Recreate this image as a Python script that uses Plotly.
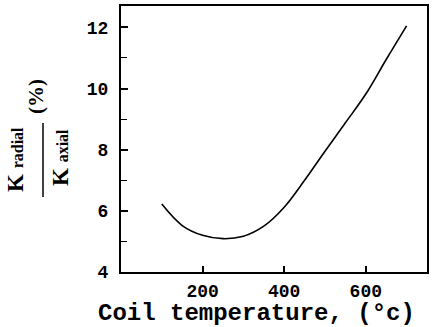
import plotly.graph_objects as go

temperature = [100, 150, 200, 250, 300, 350, 400, 450, 500, 550, 600, 650, 700]
k_ratio = [6.22, 5.52, 5.2, 5.09, 5.17, 5.5, 6.12, 7.0, 7.95, 8.88, 9.82, 10.95, 12.05]
x_tick_vals = [200, 400, 600]
y_tick_vals = [4, 6, 8, 10, 12]

W, H = 440, 327
L, R, T, B = 121, 13, 6, 55
pw, ph = W - L - R, H - T - B

def px(xp):
    return (xp - L) / pw

def py(yp):
    return (H - B - yp) / ph

fig = go.Figure()
fig.add_trace(go.Scatter(x=temperature, y=k_ratio, mode="lines",
                         line=dict(color="black", width=1.6, shape="spline"),
                         showlegend=False, hoverinfo="skip"))

tickfont = dict(family="Liberation Mono", size=18, color="black", weight="bold")

fig.update_layout(
    width=W, height=H,
    margin=dict(l=L, r=R, t=T, b=B, pad=0, autoexpand=False),
    paper_bgcolor="white", plot_bgcolor="white",
    xaxis=dict(range=[0, 750], tickvals=x_tick_vals, ticks="inside", ticklen=6,
               tickwidth=1.5, tickcolor="black", showline=True, linecolor="black",
               linewidth=2, mirror=True, showgrid=False, zeroline=False,
               tickfont=tickfont, automargin=False, ticklabelstandoff=1),
    yaxis=dict(range=[4, 12.7], tickvals=y_tick_vals, ticks="inside", ticklen=7,
               tickwidth=1.5, tickcolor="black", showline=True, linecolor="black",
               linewidth=2, mirror=True, showgrid=False, zeroline=False,
               tickfont=tickfont, ticklabelstandoff=7, automargin=False,
               minor=dict(dtick=1, ticks="inside", ticklen=6, tickcolor="black", tickwidth=1.2)),
)

fig.add_annotation(xref="paper", yref="paper", x=px(256), y=py(313),
                   text="Coil temperature, (°c)", showarrow=False,
                   font=dict(family="Liberation Mono", size=24, color="black", weight="bold"),
                   xanchor="center", yanchor="middle")

serif = dict(family="Liberation Serif", size=23, color="black", weight="bold")
fig.add_annotation(xref="paper", yref="paper", x=px(15), y=py(160), textangle=-90,
                   text="K <span style='font-size:16px'>radial</span>", showarrow=False,
                   font=serif, xanchor="center", yanchor="middle")
fig.add_annotation(xref="paper", yref="paper", x=px(60), y=py(157), textangle=-90,
                   text="K <span style='font-size:16px'>axial</span>", showarrow=False,
                   font=serif, xanchor="center", yanchor="middle")
fig.add_annotation(xref="paper", yref="paper", x=px(36), y=py(97), textangle=-90,
                   text="(%)", showarrow=False,
                   font=dict(family="Liberation Serif", size=21, color="black", weight="bold"),
                   xanchor="center", yanchor="middle")
fig.add_shape(type="line", xref="paper", yref="paper", x0=px(43), x1=px(43),
              y0=py(123), y1=py(197), line=dict(color="black", width=1.5))

fig.write_html("out.html", config={"displayModeBar": False},
               post_script="document.body.style.margin='0px';")
